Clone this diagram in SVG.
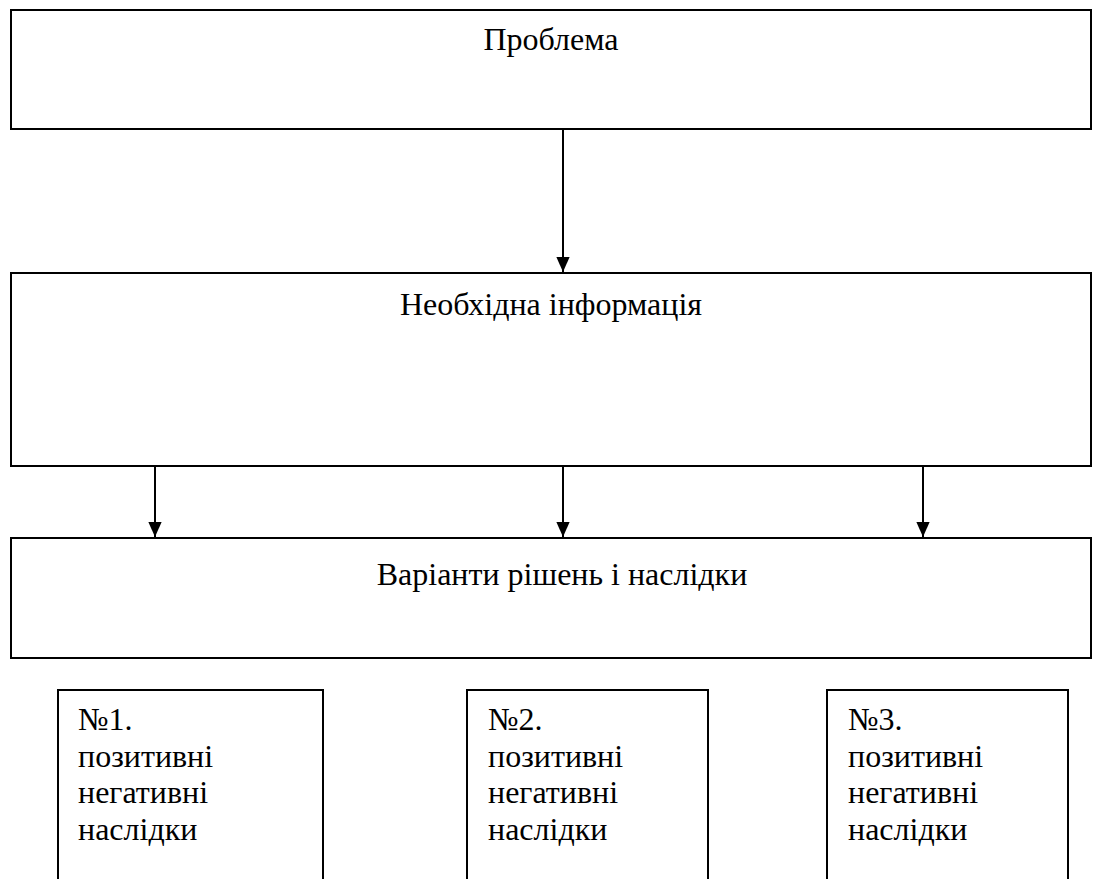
<svg xmlns="http://www.w3.org/2000/svg" width="1117" height="879" viewBox="0 0 1117 879">
<style>
.box{fill:#fff;stroke:#000;stroke-width:2}
.sbox{fill:#fff;stroke:#000;stroke-width:2}
.t{font-family:"Liberation Serif","Times New Roman",serif;font-size:32px;fill:#000}
.c{text-anchor:middle}
.conn{stroke:#000;stroke-width:2;fill:none}
</style>
<defs>
<marker id="ah" markerWidth="15" markerHeight="17" refX="17" refY="7.5" orient="auto" markerUnits="userSpaceOnUse" viewBox="0 0 17 15">
<path d="M0,0 L17,7.5 L0,15 Z" fill="#000"/>
</marker>
</defs>
<g id="n1"><rect class="box" x="11" y="10" width="1080" height="119"/><text class="t c" x="551" y="50">Проблема</text></g>
<g id="n2"><rect class="box" x="11" y="273" width="1080" height="193"/><text class="t c" x="551" y="315">Необхідна інформація</text></g>
<g id="n3"><rect class="box" x="11" y="538" width="1080" height="120"/><text class="t c" x="562" y="585">Варіанти рішень і наслідки</text></g>
<g id="o1"><rect class="sbox" x="58" y="690" width="265" height="200"/><text class="t" x="78" y="730"><tspan x="78">№1.</tspan><tspan x="78" dy="36.7">позитивні</tspan><tspan x="78" dy="36.7">негативні</tspan><tspan x="78" dy="36.7">наслідки</tspan></text></g>
<g id="o2"><rect class="sbox" x="467" y="690" width="241" height="200"/><text class="t" x="488" y="730"><tspan x="488">№2.</tspan><tspan x="488" dy="36.7">позитивні</tspan><tspan x="488" dy="36.7">негативні</tspan><tspan x="488" dy="36.7">наслідки</tspan></text></g>
<g id="o3"><rect class="sbox" x="827" y="690" width="241" height="200"/><text class="t" x="848" y="730"><tspan x="848">№3.</tspan><tspan x="848" dy="36.7">позитивні</tspan><tspan x="848" dy="36.7">негативні</tspan><tspan x="848" dy="36.7">наслідки</tspan></text></g>
<g id="connectors">
<line class="conn" x1="563" y1="130" x2="563" y2="272" marker-end="url(#ah)"/>
<line class="conn" x1="155" y1="467" x2="155" y2="537" marker-end="url(#ah)"/>
<line class="conn" x1="563" y1="467" x2="563" y2="537" marker-end="url(#ah)"/>
<line class="conn" x1="923" y1="467" x2="923" y2="537" marker-end="url(#ah)"/>
</g>
</svg>
